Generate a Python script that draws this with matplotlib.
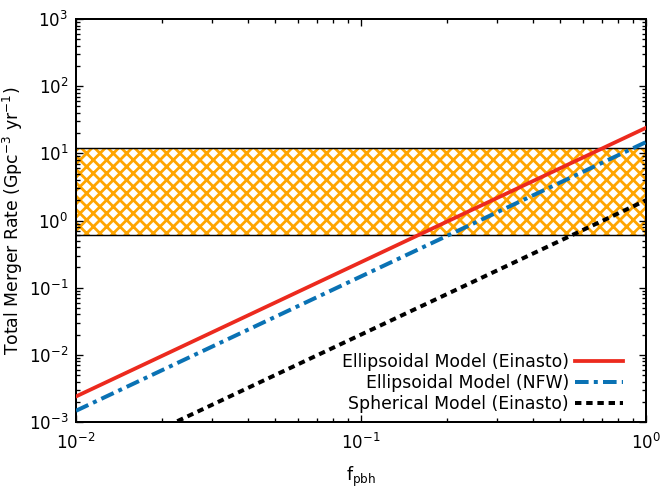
import matplotlib
matplotlib.use('Agg')
import matplotlib.pyplot as plt

# data (straight lines in log-log)
fpbh = [0.01, 0.1, 1.0]
rate_ell_einasto = [2.4e-3, 2.4e-1, 24.0]
rate_ell_nfw = [1.47e-3, 1.47e-1, 14.7]
rate_sph_einasto = [2.0e-4, 2.0e-2, 2.0]
band_low, band_high = 0.6, 12.0

labels = ['Ellipsoidal Model (Einasto)', 'Ellipsoidal Model (NFW)',
          'Spherical Model (Einasto)']

# dpi 80 so the 'xx' hatch spacing comes out near the reference (~16 px)
DPI = 80
plt.rc('font', family='DejaVu Sans', size=15)
plt.rc('hatch', linewidth=2.5)

fig = plt.figure(figsize=(662 / DPI, 493 / DPI), dpi=DPI)
fig.subplots_adjust(left=76 / 662, right=646 / 662,
                    bottom=1 - 422 / 493, top=1 - 19 / 493)
ax = fig.add_subplot(111)

ax.axhspan(band_low, band_high, facecolor='none', edgecolor='#FFA500',
           hatch='xx', lw=0, zorder=1)
ax.axhline(band_low, color='k', lw=1.3, zorder=1.5)
ax.axhline(band_high, color='k', lw=1.3, zorder=1.5)

ax.plot(fpbh, rate_ell_einasto, color='#EC2A1E', lw=3.4, label=labels[0], zorder=3)
ax.plot(fpbh, rate_ell_nfw, color='#0A72B4', lw=3.6, label=labels[1],
        dashes=(3.4, 1.3, 1.0, 1.3), zorder=3)
ax.plot(fpbh, rate_sph_einasto, color='k', lw=3.6, label=labels[2],
        dashes=(1.6, 1.2), zorder=3)

ax.set_xscale('log')
ax.set_yscale('log')
ax.set_xlim(1e-2, 1)
ax.set_ylim(1e-3, 1e3)

ax.tick_params(which='both', direction='in', top=True, right=True, width=1.2)
ax.tick_params(which='major', length=6.5, labelsize=15)
ax.tick_params(which='minor', length=3.5)
ax.tick_params(axis='x', pad=10)
ax.tick_params(axis='y', pad=7)
for s in ax.spines.values():
    s.set_linewidth(1.8)

ax.set_xlabel('f$_{\\rm pbh}$', fontsize=15.5, labelpad=10)
ax.set_ylabel('Total Merger Rate (Gpc$^{-3}$ yr$^{-1}$)', fontsize=15.5,
              labelpad=3)

ax.legend(loc='lower right', frameon=False, markerfirst=False, fontsize=15.5,
          handlelength=2.8, handletextpad=0.35, labelspacing=0.18,
          borderaxespad=0.1, bbox_to_anchor=(0.975, 0.0))

fig.savefig('out.png', dpi=DPI)
